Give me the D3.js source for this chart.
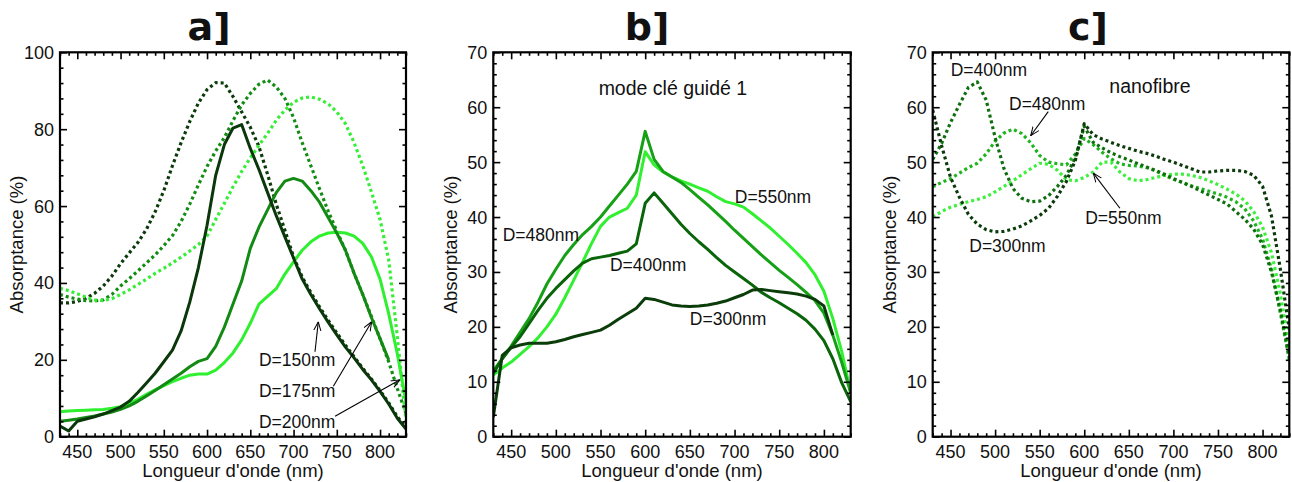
<!DOCTYPE html>
<html>
<head>
<meta charset="utf-8">
<script src="https://cdn.jsdelivr.net/npm/d3@7/dist/d3.min.js"></script>
<style>
  html, body { margin: 0; padding: 0; background: #fff; }
  svg { display: block; }
  text { font-family: "Liberation Sans", Arial, sans-serif; fill: #111; }
</style>
</head>
<body>
<svg id="chart" width="1292" height="482"></svg>
<script>
// ---------- data ----------
const wavelengths = [430,440,450,460,470,480,490,500,510,520,530,540,550,560,570,580,590,600,610,620,630,640,650,660,670,680,690,700,710,720,730,740,750,760,770,780,790,800,810,820,830];
const xTickLabels = [450,500,550,600,650,700,750,800];
const yTicksA = [0,20,40,60,80,100];
const yTicksBC = [0,10,20,30,40,50,60,70];

// panel a] solid
const aD150 = [2.8,1.5,4.0,4.6,5.2,5.9,6.8,7.7,9.2,11.5,14.0,16.5,19.5,22.5,27.5,35,44,55,68,76,80.3,81.2,75,69.5,63.5,57.5,52,46.5,41,37.0,33.3,29.8,26.5,23.3,20.5,17.5,14.8,11.8,8.5,4.8,2.0];
const aD175 = [4.0,4.3,4.6,5.0,5.4,5.9,6.4,7.1,8.0,9.2,10.6,12.0,13.5,15.0,16.5,18.2,19.6,20.3,23.5,28.5,34.5,40.5,49,54.5,59,63.5,66.5,67.2,66.5,64,61,57,53,48.5,42.5,37,31,25.5,20,null,null];
const aD200 = [6.5,6.7,6.8,6.9,7.0,7.1,7.4,7.8,8.6,9.7,11.0,12.2,13.3,14.3,15.2,16.0,16.3,16.3,17.3,19.3,21.8,25.2,29.5,34.5,36.5,38.5,42.3,45.5,48.5,50.7,52.2,53.0,53.2,53.0,52.2,50.3,46.8,41,32,21.5,9];
// panel a] dotted
const aD150dot = [34.8,34.8,35.2,36.0,37.3,39.2,41.8,45.0,47.8,50.5,54,58.5,64,70.5,76.5,82,86.8,90.3,92.1,92.0,88.5,84.5,80.5,75.5,68.2,60.5,53.7,46.8,41.5,37.5,33.8,30.3,27,23.8,20.8,17.8,15,12,8.8,5.2,2.3];
const aD175dot = [37,36.3,35.8,35.4,35.3,35.6,37.0,39.2,41.1,43.1,45.2,47.3,49.7,52.3,56.0,60.5,65.5,70.3,74.3,77.8,82.2,86.3,89.3,91.7,92.8,91,88,83,76.5,70.5,64.5,58.7,53.5,48.5,42.5,37,31.3,25.5,19.5,12.5,6];
const aD200dot = [38.6,38,37.2,36.3,35.6,35.4,35.9,37,38.2,39.6,41.0,42.5,43.8,45.2,46.7,48.3,50.0,52.2,56.5,60.7,65,69,72.5,75.8,78.9,82.3,85,87,88.1,88.4,87.8,86.6,84.5,81.4,76.5,70.5,63.7,56.5,46,26,4];

// panel b] mode clé guidé 1
const bD300 = [3.6,14.8,16.2,16.7,17.0,17.0,17.0,17.3,17.7,18.2,18.6,19.0,19.4,20.3,21.4,22.4,23.4,25.2,25.0,24.5,24.0,23.8,23.7,23.8,24.0,24.3,24.7,25.3,25.9,26.7,26.8,26.6,26.4,26.2,26.0,25.6,25.0,23.8,18.5,null,null];
const bD400 = [11.5,14.2,16.3,18.2,20.6,23.0,25.2,27.0,28.6,30.2,31.6,32.4,32.7,33.0,33.4,33.8,35.1,42.5,44.4,42.5,40.6,38.7,37,35.5,34.1,32.6,31.2,30.0,28.8,27.6,26.3,25.3,24.4,23.4,22.4,21.2,19.6,17.5,14.2,9.8,6.4];
const bD480 = [12.0,14.2,16.5,19.0,21.5,24.5,27.8,30.5,33.0,35.0,36.8,38.3,40.0,42.0,44.0,46.0,48.3,55.6,50.5,48.3,47.3,46.3,45.0,43.6,42.2,40.7,39.2,37.6,36.1,34.6,33.1,31.7,30.3,29.0,27.7,26.3,24.8,22.5,18.5,13.5,8.0];
const bD550 = [11.2,12.5,13.6,15.0,16.4,18.0,20.0,22.3,25.3,28.5,31.8,35.2,38.3,40.0,40.8,41.6,44.0,51.9,49.5,48.2,47.3,46.6,46.0,45.3,44.7,43.7,42.8,42.4,41.8,40.6,39.3,38.0,36.5,35.0,33.4,31.7,29.5,26.5,21.5,15.5,8.0];

// panel c] nanofibre
const cD300 = [59.5,53,47.2,43.6,40.5,38.7,37.7,37.3,37.4,37.8,38.4,39.3,40.3,41.6,43.8,46.5,50.3,57.0,55.0,54.2,53.6,53.0,52.5,52.0,51.6,51.1,50.5,50.0,49.4,48.8,48.2,48.2,48.4,48.5,48.5,48.3,47.6,45.6,40.2,30.5,19.5];
const cD400 = [50.5,53.4,57.2,60.5,63.6,64.6,61.3,54.5,48.8,45.2,43.4,42.8,42.9,43.9,45.6,47.6,50.8,56.5,53.6,52.6,51.7,51.0,50.4,49.7,49.1,48.5,47.8,47.0,46.3,45.6,44.8,44.0,43.2,42.4,41.0,39.6,37.8,35,30,23,14.5];
const cD480 = [45.5,46.3,47.0,48.0,49.0,49.8,51.5,53.8,55.3,56.0,55.2,53.5,51.2,50.0,49.7,49.5,51.5,54.3,53.2,51.8,50.6,49.7,49.4,49.3,49.0,48.4,47.6,46.9,46.3,45.7,45.2,44.7,44.2,43.6,42.8,41.5,39.3,36,30.5,22.5,14];
const cD550 = [40.0,41.0,41.8,42.3,42.8,43.2,43.7,44.6,45.6,46.6,47.7,48.8,49.8,49.6,48.5,46.8,46.6,47.2,48.2,50.0,50.0,48.2,47.0,46.6,46.8,47.2,47.6,47.8,47.8,47.6,47.2,46.6,45.9,45.1,44.2,43.0,41.0,38.2,33.5,26,16];

// ---------- layout ----------
const svg = d3.select("#chart");
const TOP = 52.3, BOTTOM = 436.7;

const panels = [
  { key: "a", title: "a]", titleX: 209, x0: 60, x1: 406, ymax: 100, yTicks: yTicksA, yMinor: 4, ylabX: 16.7,
    series: [
      { v: aD150dot, c: "#0b3b0b", dot: true },
      { v: aD175dot, c: "#128c12", dot: true },
      { v: aD200dot, c: "#36ee36", dot: true },
      { v: aD200, c: "#2ef02e" },
      { v: aD175, c: "#138a13" },
      { v: aD150, c: "#0a380a" }
    ],
    texts: [
      { t: "D=150nm", x: 660, y: 20, anchor: "start" },
      { t: "D=175nm", x: 660, y: 12, anchor: "start" },
      { t: "D=200nm", x: 660, y: 4, anchor: "start" }
    ],
    arrows: [
      { from: [724.8, 22.1], to: [728.6, 29.9] },
      { from: [746, 13.1], to: [790.3, 29.9] },
      { from: [748, 5.3], to: [823, 14.8] }
    ]
  },
  { key: "b", title: "b]", titleX: 647, x0: 493.3, x1: 850.7, ymax: 70, yTicks: yTicksBC, yMinor: 2, ylabX: 450.7,
    series: [
      { v: bD550, c: "#30f030" },
      { v: bD480, c: "#15a015" },
      { v: bD400, c: "#0a640a" },
      { v: bD300, c: "#0b3d0b" }
    ],
    texts: [
      { t: "mode clé guidé 1", x: 631, y: 63.5, anchor: "middle", big: true },
      { t: "D=550nm", x: 700.3, y: 43.7, anchor: "start" },
      { t: "D=480nm", x: 440.5, y: 36.7, anchor: "start" },
      { t: "D=400nm", x: 560.6, y: 31.4, anchor: "start" },
      { t: "D=300nm", x: 650, y: 21.4, anchor: "start" }
    ],
    arrows: []
  },
  { key: "c", title: "c]", titleX: 1088, x0: 932.7, x1: 1289.3, ymax: 70, yTicks: yTicksBC, yMinor: 2, ylabX: 889.3,
    series: [
      { v: cD550, c: "#3cf03c", dot: true },
      { v: cD480, c: "#1fb41f", dot: true },
      { v: cD400, c: "#0f6f0f", dot: true },
      { v: cD300, c: "#0b3b0b", dot: true }
    ],
    texts: [
      { t: "D=400nm", x: 450.2, y: 66.8, anchor: "start" },
      { t: "D=480nm", x: 515.6, y: 60.7, anchor: "start" },
      { t: "nanofibre", x: 673.7, y: 63.9, anchor: "middle", big: true },
      { t: "D=550nm", x: 601.1, y: 39.8, anchor: "start" },
      { t: "D=300nm", x: 471, y: 34.8, anchor: "start" }
    ],
    arrows: [
      { from: [559.6, 59.2], to: [539.9, 54.8] },
      { from: [640, 41.6], to: [610.1, 48] }
    ]
  }
];

// arrow marker
const defs = svg.append("defs");
defs.append("marker")
  .attr("id", "arrowhead")
  .attr("viewBox", "0 0 10 10")
  .attr("refX", 10).attr("refY", 5)
  .attr("markerWidth", 9).attr("markerHeight", 9)
  .attr("markerUnits", "userSpaceOnUse")
  .attr("orient", "auto")
  .append("path")
  .attr("d", "M0,1 L10,5 L0,9")
  .attr("fill", "none")
  .attr("stroke", "#000")
  .attr("stroke-width", 1.1);

const minorX = wavelengths.filter(w => w % 50 !== 0);

panels.forEach(p => {
  const x = d3.scaleLinear().domain([430, 830]).range([p.x0, p.x1]);
  const y = d3.scaleLinear().domain([0, p.ymax]).range([BOTTOM, TOP]);
  const g = svg.append("g");

  defs.append("clipPath").attr("id", "clip-" + p.key)
    .append("rect").attr("x", p.x0).attr("y", TOP).attr("width", p.x1 - p.x0).attr("height", BOTTOM - TOP);

  // series
  const line = d3.line()
    .defined(d => d[1] !== null)
    .x(d => x(d[0]))
    .y(d => y(d[1]));
  const lg = g.append("g").attr("clip-path", "url(#clip-" + p.key + ")");
  p.series.forEach(s => {
    lg.append("path")
      .datum(wavelengths.map((w, i) => [w, s.v[i]]))
      .attr("d", line)
      .attr("fill", "none")
      .attr("stroke", s.c)
      .attr("stroke-width", s.dot ? 3.2 : 3)
      .attr("stroke-linejoin", "round")
      .attr("stroke-dasharray", s.dot ? "3,3" : null);
  });

  // ticks (inward, all four sides) via d3 axes
  const yMinorVals = d3.range(0, p.ymax + 0.001, p.yMinor).filter(v => !p.yTicks.includes(v));
  const axB = d3.axisTop(x).tickValues(xTickLabels).tickSize(7).tickFormat("");
  const axBm = d3.axisTop(x).tickValues(minorX).tickSize(3.5).tickFormat("");
  const axT = d3.axisBottom(x).tickValues(xTickLabels).tickSize(7).tickFormat("");
  const axTm = d3.axisBottom(x).tickValues(minorX).tickSize(3.5).tickFormat("");
  const axL = d3.axisRight(y).tickValues(p.yTicks).tickSize(7).tickFormat("");
  const axLm = d3.axisRight(y).tickValues(yMinorVals).tickSize(3.5).tickFormat("");
  const axR = d3.axisLeft(y).tickValues(p.yTicks).tickSize(7).tickFormat("");
  const axRm = d3.axisLeft(y).tickValues(yMinorVals).tickSize(3.5).tickFormat("");
  [[axB, `translate(0,${BOTTOM})`], [axBm, `translate(0,${BOTTOM})`],
   [axT, `translate(0,${TOP})`], [axTm, `translate(0,${TOP})`],
   [axL, `translate(${p.x0},0)`], [axLm, `translate(${p.x0},0)`],
   [axR, `translate(${p.x1},0)`], [axRm, `translate(${p.x1},0)`]].forEach(([ax, tr]) => {
    const a = g.append("g").attr("transform", tr).call(ax);
    a.select(".domain").remove();
    a.selectAll("line").attr("stroke", "#000").attr("stroke-width", 1.6);
  });

  // frame
  g.append("rect")
    .attr("x", p.x0).attr("y", TOP)
    .attr("width", p.x1 - p.x0).attr("height", BOTTOM - TOP)
    .attr("fill", "none").attr("stroke", "#000").attr("stroke-width", 2.2);

  // tick labels
  g.selectAll(".xl").data(xTickLabels).enter().append("text")
    .attr("x", d => x(d)).attr("y", 458)
    .attr("text-anchor", "middle").attr("font-size", 18)
    .text(d => d);
  g.selectAll(".yl").data(p.yTicks).enter().append("text")
    .attr("x", p.x0 - 6).attr("y", d => y(d)).attr("dy", "0.36em")
    .attr("text-anchor", "end").attr("font-size", 18)
    .text(d => d);

  // axis labels
  g.append("text")
    .attr("x", (p.x0 + p.x1) / 2).attr("y", 476.5)
    .attr("text-anchor", "middle").attr("font-size", 18.5)
    .text("Longueur d'onde (nm)");
  g.append("text")
    .attr("transform", `translate(${p.ylabX},${(TOP + BOTTOM) / 2}) rotate(-90)`)
    .attr("dy", "0.36em")
    .attr("text-anchor", "middle").attr("font-size", 18.5)
    .text("Absorptance (%)");

  // title
  g.append("text")
    .attr("x", p.titleX).attr("y", 40)
    .attr("text-anchor", "middle")
    .style("font-family", "'DejaVu Sans', sans-serif")
    .style("font-weight", "bold")
    .attr("font-size", 38)
    .text(p.title);

  // annotations
  p.texts.forEach(t => {
    g.append("text")
      .attr("x", x(t.x)).attr("y", y(t.y)).attr("dy", "0.36em")
      .attr("text-anchor", t.anchor)
      .attr("font-size", t.big ? 19.5 : 17.5)
      .text(t.t);
  });
  p.arrows.forEach(a => {
    g.append("line")
      .attr("x1", x(a.from[0])).attr("y1", y(a.from[1]))
      .attr("x2", x(a.to[0])).attr("y2", y(a.to[1]))
      .attr("stroke", "#000").attr("stroke-width", 1.1)
      .attr("marker-end", "url(#arrowhead)");
  });
});
</script>
</body>
</html>
